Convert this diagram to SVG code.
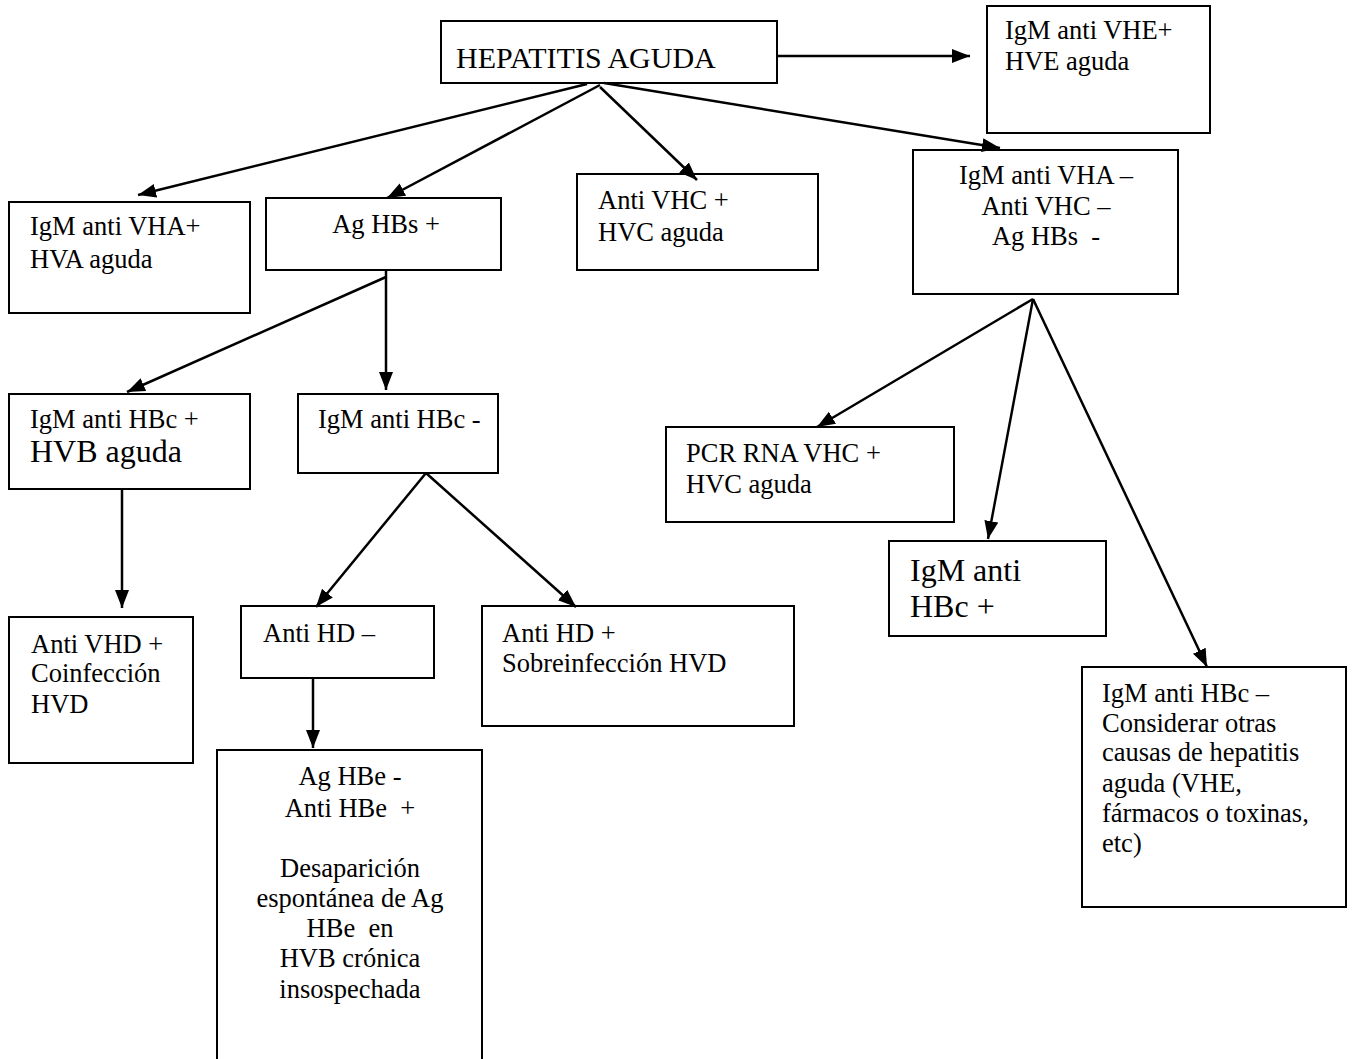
<svg xmlns="http://www.w3.org/2000/svg" width="1353" height="1059" viewBox="0 0 1353 1059">
<style>
.box{fill:#fff;stroke:#000;stroke-width:2}
text{font-family:"Liberation Serif","Times New Roman",serif;font-size:26.5px;fill:#000}
.big{font-size:32px}
.title{font-size:30px}
.c{text-anchor:middle}
.conn line{stroke:#000;stroke-width:2.5;marker-end:url(#ah)}
</style>
<defs>
<marker id="ah" markerUnits="userSpaceOnUse" markerWidth="20" markerHeight="16" refX="18" refY="7" orient="auto">
<path d="M0,0 L18,7 L0,14 z" fill="#000"/>
</marker>
</defs>
<rect width="1353" height="1059" fill="#fff"/>
<g id="n-hepatitis"><rect class="box" x="441" y="21" width="336" height="62"/><text class="title" x="456" y="68">HEPATITIS AGUDA</text></g>
<g id="n-vhe"><rect class="box" x="987" y="6" width="223" height="127"/><text x="1005" y="39">IgM anti VHE+</text><text x="1005" y="70">HVE aguda</text></g>
<g id="n-vha"><rect class="box" x="9" y="202" width="241" height="111"/><text x="30" y="235">IgM anti VHA+</text><text x="30" y="268">HVA aguda</text></g>
<g id="n-aghbs"><rect class="box" x="266" y="198" width="235" height="72"/><text class="c" x="386" y="233">Ag HBs +</text></g>
<g id="n-vhc"><rect class="box" x="577" y="174" width="241" height="96"/><text x="598" y="209">Anti VHC +</text><text x="598" y="241">HVC aguda</text></g>
<g id="n-neg"><rect class="box" x="913" y="150" width="265" height="144"/><text class="c" x="1046" y="184">IgM anti VHA –</text><text class="c" x="1046" y="215">Anti VHC –</text><text class="c" x="1046" y="245" xml:space="preserve">Ag HBs  -</text></g>
<g id="n-hbcpos"><rect class="box" x="9" y="394" width="241" height="95"/><text x="30" y="428">IgM anti HBc +</text><text class="big" x="30" y="462">HVB aguda</text></g>
<g id="n-hbcneg"><rect class="box" x="298" y="394" width="200" height="79"/><text x="318" y="428">IgM anti HBc -</text></g>
<g id="n-pcr"><rect class="box" x="666" y="427" width="288" height="95"/><text x="686" y="462">PCR RNA VHC +</text><text x="686" y="493">HVC aguda</text></g>
<g id="n-hbcpos2"><rect class="box" x="889" y="541" width="217" height="95"/><text class="big" x="910" y="581">IgM anti</text><text class="big" x="910" y="617">HBc +</text></g>
<g id="n-vhd"><rect class="box" x="9" y="617" width="184" height="146"/><text x="31" y="653">Anti VHD +</text><text x="31" y="682">Coinfección</text><text x="31" y="713">HVD</text></g>
<g id="n-hdneg"><rect class="box" x="241" y="606" width="193" height="72"/><text x="263" y="642">Anti HD –</text></g>
<g id="n-hdpos"><rect class="box" x="482" y="606" width="312" height="120"/><text x="502" y="642">Anti HD +</text><text x="502" y="672">Sobreinfección HVD</text></g>
<g id="n-hbe"><rect class="box" x="217" y="750" width="265" height="320"/><text class="c" x="350" y="785">Ag HBe -</text><text class="c" x="350" y="817" xml:space="preserve">Anti HBe  +</text><text class="c" x="350" y="877">Desaparición</text><text class="c" x="350" y="907">espontánea de Ag</text><text class="c" x="350" y="937" xml:space="preserve">HBe  en</text><text class="c" x="350" y="967">HVB crónica</text><text class="c" x="350" y="998">insospechada</text></g>
<g id="n-otras"><rect class="box" x="1082" y="667" width="264" height="240"/><text x="1102" y="702">IgM anti HBc –</text><text x="1102" y="732">Considerar otras</text><text x="1102" y="761">causas de hepatitis</text><text x="1102" y="792">aguda (VHE,</text><text x="1102" y="822">fármacos o toxinas,</text><text x="1102" y="852">etc)</text></g>
<g id="connectors" class="conn">
<line x1="778" y1="56" x2="970" y2="56"/>
<line x1="587" y1="84" x2="138" y2="195"/>
<line x1="600" y1="85" x2="387" y2="198"/>
<line x1="600" y1="87" x2="697" y2="180"/>
<line x1="604" y1="83" x2="1000" y2="148"/>
<line x1="386" y1="277" x2="127" y2="392"/>
<line x1="386" y1="270" x2="386" y2="390"/>
<line x1="122" y1="489" x2="122" y2="608"/>
<line x1="426" y1="473" x2="316" y2="607"/>
<line x1="426" y1="473" x2="576" y2="607"/>
<line x1="313" y1="678" x2="313" y2="748"/>
<line x1="1033" y1="299" x2="817" y2="427"/>
<line x1="1033" y1="299" x2="988" y2="539"/>
<line x1="1033" y1="299" x2="1207" y2="667"/>
</g>
</svg>
